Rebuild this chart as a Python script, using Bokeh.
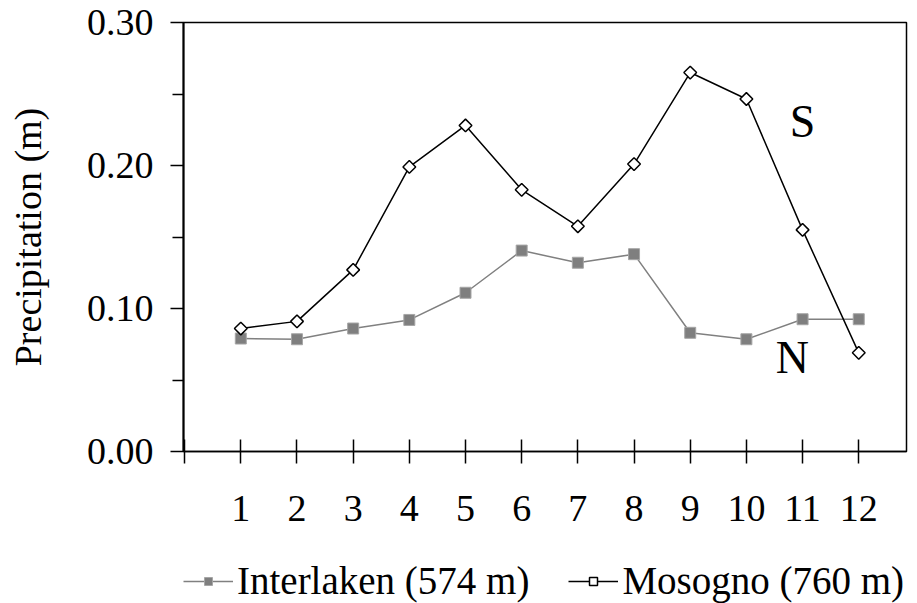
import math
from bokeh.plotting import figure
from bokeh.layouts import column
from bokeh.models import (Range1d, FixedTicker, Legend, LegendItem, Label, ColumnDataSource)
from bokeh.embed import file_html
from bokeh.resources import INLINE

months = [1, 2, 3, 4, 5, 6, 7, 8, 9, 10, 11, 12]
interlaken = [0.079, 0.0785, 0.086, 0.092, 0.111, 0.1405, 0.132, 0.138, 0.083, 0.0785, 0.0925, 0.0925]
mosogno = [0.086, 0.091, 0.127, 0.199, 0.228, 0.183, 0.1575, 0.201, 0.265, 0.2465, 0.155, 0.069]
y_ticks = [0.0, 0.1, 0.2, 0.3]
y_minor = [0.05, 0.15, 0.25]
x_ticks = [0, 1, 2, 3, 4, 5, 6, 7, 8, 9, 10, 11, 12]
series_names = ["Interlaken (574 m)", "Mosogno (760 m)"]

FONT = "Liberation Serif"
INT_LINE = dict(line_color="#808080", line_width=1.5)
INT_MARK = dict(marker="square", size=11, fill_color="#7f7f7f", line_color="#a6a6a6", line_width=1)
MOS_LINE = dict(line_color="black", line_width=1.5)
MOS_MARK = dict(marker="square", size=9, angle=math.pi / 4, fill_color="white",
                line_color="black", line_width=1.5)

p = figure(frame_width=723, frame_height=429, output_backend="svg", toolbar_location=None,
           x_range=Range1d(-0.02, 12.85), y_range=Range1d(0, 0.30),
           min_border_left=183, min_border_top=22, min_border_right=3, min_border_bottom=92)

p.grid.visible = False
p.outline_line_color = "black"
p.outline_line_width = 1.5
p.background_fill_color = "white"
p.border_fill_color = "white"

# y axis
ya = p.yaxis[0]
ya.ticker = FixedTicker(ticks=y_ticks, minor_ticks=y_minor)
ya.major_label_overrides = {t: f"{t:.2f}" for t in y_ticks}
ya.axis_label = "Precipitation (m)"
ya.axis_label_text_font = FONT
ya.axis_label_text_font_style = "normal"
ya.axis_label_text_font_size = "38px"
ya.axis_label_text_color = "black"
ya.axis_label_standoff = 35
ya.major_label_text_font = FONT
ya.major_label_text_font_size = "38px"
ya.major_label_text_color = "black"
ya.major_label_standoff = 17
ya.major_tick_out = 13
ya.major_tick_in = 0
ya.minor_tick_out = 11
ya.minor_tick_in = 0
ya.axis_line_width = 2
ya.axis_line_color = "black"
ya.major_tick_line_width = 1.5
ya.minor_tick_line_width = 1.5

# x axis
xa = p.xaxis[0]
xa.ticker = FixedTicker(ticks=x_ticks, minor_ticks=[])
xa.major_label_overrides = {0: ""}
xa.major_label_text_font = FONT
xa.major_label_text_font_size = "38px"
xa.major_label_text_color = "black"
xa.major_label_standoff = 32
xa.major_tick_out = 12
xa.major_tick_in = 12
xa.axis_line_width = 1.5
xa.axis_line_color = "black"
xa.major_tick_line_width = 1.5

src = ColumnDataSource(dict(x=months, i=interlaken, m=mosogno))

p.line("x", "i", source=src, **INT_LINE)
p.scatter("x", "i", source=src, **INT_MARK)
p.line("x", "m", source=src, **MOS_LINE)
p.scatter("x", "m", source=src, **MOS_MARK)

p.add_layout(Label(x=11, y=0.231, text="S", text_font=FONT, text_font_size="46px",
                   text_align="center", text_baseline="middle", text_color="black"))
p.add_layout(Label(x=10.82, y=0.066, text="N", text_font=FONT, text_font_size="46px",
                   text_align="center", text_baseline="middle", text_color="black"))

# legend strip below the chart (its renderers reuse the series but lie outside its view)
q = figure(frame_width=723, frame_height=60, output_backend="svg", toolbar_location=None,
           x_range=Range1d(100, 101), y_range=Range1d(100, 101),
           min_border_left=183, min_border_right=3, min_border_top=0, min_border_bottom=0)
q.axis.visible = False
q.grid.visible = False
q.outline_line_color = None
q.background_fill_color = "white"
q.border_fill_color = "white"
ql1 = q.line("x", "i", source=src, **INT_LINE)
qm1 = q.scatter("x", "i", source=src, **INT_MARK)
ql2 = q.line("x", "m", source=src, **MOS_LINE)
qm2 = q.scatter("x", "m", source=src, **MOS_MARK)

legend = Legend(items=[LegendItem(label=series_names[0], renderers=[ql1, qm1]),
                       LegendItem(label=series_names[1], renderers=[ql2, qm2])],
                orientation="horizontal", location=(0, 0),
                label_text_font=FONT, label_text_font_size="39px", label_text_color="black",
                glyph_width=50, label_standoff=4, spacing=39,
                border_line_color=None, background_fill_alpha=0,
                margin=0, padding=0)
q.add_layout(legend)

layout = column(p, q, spacing=0)
open("out.html", "w").write(file_html(layout, INLINE))
